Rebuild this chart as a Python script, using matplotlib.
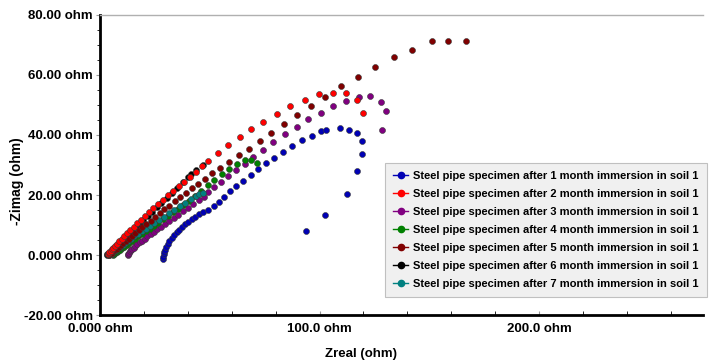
import matplotlib
matplotlib.use("Agg")
import matplotlib.pyplot as plt
from matplotlib import font_manager
from matplotlib.lines import Line2D
from matplotlib.ticker import MultipleLocator

# Nyquist-Daten (Zreal, -Zimag in Ohm)
labels = [f"Steel pipe specimen after {m} month immersion in soil 1" for m in range(1, 8)]
colors = ["#0000b4", "#ff0000", "#800080", "#008000", "#800000", "#000000", "#008080"]

zre_1 = [28.9, 28.9, 29.0, 29.3, 29.6, 30.1, 30.8, 31.6, 32.7, 33.8, 34.9, 36.0, 37.2, 38.7, 40.2,
         41.7, 43.3, 45.1, 47.1, 49.2, 51.9, 54.1, 56.4, 59.1, 62.0, 65.3, 68.6, 72.0, 75.5, 79.3,
         83.2, 87.3, 91.8, 96.4, 100.5, 102.9, 109.3, 113.4, 117.1, 119.5, 119.5, 117.1, 112.4,
         102.4, 94.0]
zim_1 = [-1.4, -0.6, 0.2, 1.0, 1.7, 2.6, 3.6, 4.6, 5.6, 6.6, 7.6, 8.5, 9.4, 10.3, 11.1,
         12.0, 12.8, 13.6, 14.4, 15.1, 16.3, 17.8, 19.4, 21.3, 23.0, 24.8, 26.7, 28.6, 30.6, 32.3,
         34.2, 36.3, 38.3, 39.8, 41.3, 41.8, 42.2, 41.7, 40.7, 38.0, 33.7, 28.0, 20.3,
         13.2, 8.0]

zre_2 = [3.6, 3.9, 4.3, 4.8, 5.4, 6.1, 6.9, 7.8, 8.8, 9.9, 11.1, 12.4, 13.8, 15.3, 16.9, 18.6,
         20.4, 22.3, 24.3, 26.4, 28.6, 30.9, 33.3, 35.8, 38.4, 41.1, 43.9, 46.6, 49.2, 53.8, 58.5,
         63.6, 68.9, 74.4, 80.5, 86.6, 93.4, 99.8, 106.2, 111.9, 117.1, 119.8]
zim_2 = [0.3, 0.6, 1.0, 1.4, 1.9, 2.5, 3.1, 3.8, 4.6, 5.4, 6.3, 7.3, 8.3, 9.4, 10.6, 11.8,
         13.0, 14.3, 15.6, 17.0, 18.4, 19.9, 21.4, 22.9, 24.5, 26.1, 27.7, 29.7, 31.3, 33.9, 36.6,
         39.2, 41.9, 44.3, 47.1, 49.6, 51.8, 53.6, 54.0, 53.9, 51.8, 47.4]

zre_3 = [12.6, 12.8, 13.1, 13.5, 14.0, 14.6, 15.3, 16.1, 17.0, 18.0, 19.1, 20.3, 21.6, 23.0,
         24.5, 26.1, 27.8, 29.6, 31.5, 33.5, 35.6, 37.8, 40.1, 42.5, 44.9, 47.2, 49.3, 52.1, 55.3,
         58.5, 62.0, 66.1, 69.8, 74.1, 79.0, 84.3, 89.6, 94.6, 100.5, 106.3, 112.1, 118.0, 123.1,
         127.9, 130.1, 128.6]
zim_3 = [0.0, 0.4, 0.8, 1.2, 1.6, 2.0, 2.5, 3.0, 3.6, 4.2, 4.8, 5.5, 6.2, 7.0,
         7.8, 8.6, 9.5, 10.4, 11.4, 12.4, 13.5, 14.6, 15.8, 17.0, 18.2, 19.4, 21.1, 22.6, 24.4,
         26.3, 28.3, 30.2, 32.6, 35.0, 37.6, 40.3, 42.8, 45.2, 47.3, 49.6, 51.3, 52.6, 52.9,
         51.1, 47.9, 41.6]

zre_4 = [5.8, 6.1, 6.5, 7.0, 7.6, 8.3, 9.1, 10.0, 11.0, 12.1, 13.3, 14.6, 16.0, 17.5, 19.1,
         20.8, 22.6, 24.5, 26.5, 28.6, 30.8, 33.1, 35.5, 38.0, 40.6, 43.3, 46.1, 49.0, 52.1, 55.4,
         58.8, 62.3, 65.9, 68.9, 71.4]
zim_4 = [0.0, 0.2, 0.4, 0.7, 1.0, 1.4, 1.8, 2.3, 2.8, 3.4, 4.0, 4.7, 5.4, 6.2, 7.0,
         7.9, 8.8, 9.8, 10.8, 11.9, 13.0, 14.2, 15.4, 16.7, 18.1, 19.6, 21.3, 23.2, 25.1, 27.0,
         28.7, 30.2, 31.6, 31.8, 30.8]

zre_5 = [4.3, 4.6, 5.0, 5.5, 6.1, 6.8, 7.6, 8.5, 9.5, 10.6, 11.8, 13.1, 14.5, 16.0, 17.6, 19.3,
         21.1, 23.0, 25.0, 27.1, 29.3, 31.6, 34.0, 36.5, 39.1, 41.9, 44.8, 47.7, 51.2, 54.8, 58.9,
         63.5, 68.0, 73.0, 78.0, 83.8, 89.9, 96.1, 102.6, 109.8, 117.4, 125.4, 133.8, 142.1,
         151.1, 158.4, 166.9]
zim_5 = [0.0, 0.2, 0.5, 0.8, 1.2, 1.6, 2.1, 2.7, 3.3, 4.0, 4.7, 5.5, 6.4, 7.3, 8.3, 9.3,
         10.4, 11.5, 12.7, 13.9, 15.2, 16.5, 17.9, 19.3, 20.8, 22.3, 23.8, 25.4, 27.2, 29.1, 31.1,
         33.4, 35.4, 38.0, 40.7, 43.7, 46.7, 49.6, 52.8, 56.2, 59.3, 62.8, 66.0, 68.4,
         71.3, 71.3, 71.3]

zre_6 = [3.0, 3.3, 3.7, 4.2, 4.8, 5.5, 6.3, 7.2, 8.2, 9.3, 10.5, 11.8, 13.2, 14.7, 16.3, 18.0,
         19.8, 21.7, 23.7, 25.8, 28.0, 30.3, 32.7, 35.2, 37.8, 40.2, 41.6, 43.7, 46.7]
zim_6 = [0.0, 0.2, 0.5, 0.8, 1.2, 1.7, 2.3, 2.9, 3.6, 4.4, 5.2, 6.1, 7.1, 8.1, 9.2, 10.4,
         11.7, 13.0, 14.4, 15.9, 17.4, 19.0, 20.7, 22.4, 24.2, 25.9, 27.0, 28.3, 30.0]

zre_7 = [4.0, 4.3, 4.7, 5.2, 5.8, 6.5, 7.3, 8.2, 9.2, 10.3, 11.5, 12.8, 14.2, 15.7, 17.3, 19.0,
         20.8, 22.7, 24.7, 26.8, 29.0, 31.3, 33.7, 36.2, 38.8, 41.3, 43.5, 45.3, 46.9]
zim_7 = [0.0, 0.2, 0.4, 0.7, 1.0, 1.4, 1.8, 2.3, 2.8, 3.4, 4.0, 4.7, 5.4, 6.2, 7.0, 7.9,
         8.8, 9.7, 10.7, 11.7, 12.8, 13.9, 15.0, 16.2, 17.4, 18.6, 19.6, 20.3, 20.7]

series = [(zre_1, zim_1), (zre_2, zim_2), (zre_3, zim_3), (zre_4, zim_4),
          (zre_5, zim_5), (zre_6, zim_6), (zre_7, zim_7)]
# Zeichenreihenfolge: schwarz liegt im Original unter rot
draw_order = [5, 0, 2, 3, 6, 4, 1]

y_ticks = [-20, 0, 20, 40, 60, 80]
y_tick_labels = ["-20.00 ohm", "0.000 ohm", "20.00 ohm", "40.00 ohm", "60.00 ohm", "80.00 ohm"]
x_ticks = [0, 100, 200]
x_tick_labels = ["0.000 ohm", "100.0 ohm", "200.0 ohm"]


def pick_font():
    """Schmale Arial-artige Schrift, falls vorhanden."""
    for name in ["Liberation Sans Narrow", "Liberation Sans"]:
        try:
            font_manager.findfont(name, fallback_to_default=False)
            return name
        except Exception:
            pass
    return "DejaVu Sans"


def main():
    font = pick_font()
    narrow = "Narrow" in font
    plt.rcParams["font.family"] = font
    plt.rcParams["font.weight"] = "bold"

    fig = plt.figure(figsize=(7.16, 3.63), dpi=100)
    ax = fig.add_axes([0.1397, 0.1322, 0.8423, 0.8265])

    for i in draw_order:
        zre, zim = series[i]
        col = colors[i]
        ax.plot(zre, zim, linestyle="none", marker="o", ms=4.3, mfc=col,
                mec="#3a3a3a", mew=0.4)

    ax.set_xlim(0, 274.7)
    ax.set_ylim(-20, 80)
    ax.set_xticks(x_ticks, x_tick_labels)
    ax.set_yticks(y_ticks, y_tick_labels)
    ax.xaxis.set_minor_locator(MultipleLocator(20))
    ax.yaxis.set_minor_locator(MultipleLocator(5))

    tick_size = 11.3 if narrow else 9.5
    ax.tick_params(axis="both", labelsize=tick_size, colors="#999999", labelcolor="black")
    ax.tick_params(axis="y", which="major", length=3, width=0.8, direction="out", pad=2)
    ax.tick_params(axis="y", which="minor", length=2.5, width=0.6, direction="out")
    ax.tick_params(axis="x", which="major", length=3, width=0.8, direction="in", pad=6)
    ax.tick_params(axis="x", which="minor", length=3, width=0.6, direction="in")

    ax.spines["left"].set_linewidth(2)
    ax.spines["bottom"].set_linewidth(2)
    ax.spines["top"].set_color("#b0b0b0")
    ax.spines["top"].set_linewidth(1)
    ax.spines["right"].set_visible(False)

    fig.text(0.504, 0.025, "Zreal (ohm)", ha="center", va="center",
             fontsize=tick_size, fontweight="bold")
    fig.text(0.024, 0.50, "-Zimag (ohm)", ha="center", va="center", rotation=90,
             fontsize=tick_size + 0.5, fontweight="bold")

    handles = [Line2D([], [], color=c, lw=1, marker="o", ms=4.5, mfc=c, mec=c) for c in colors]
    leg = ax.legend(handles, labels, loc="upper right", bbox_to_anchor=(0.987, 0.551),
                    bbox_transform=fig.transFigure, borderaxespad=0,
                    fontsize=9.2 if narrow else 8.05, frameon=True, fancybox=False,
                    handlelength=1.3, handletextpad=0.5, labelspacing=0.72,
                    borderpad=0.7)
    frame = leg.get_frame()
    frame.set_facecolor("#f0f0f0")
    frame.set_edgecolor("#c0c0c0")
    frame.set_linewidth(0.8)
    frame.set_alpha(1)

    fig.savefig("out.png", dpi=100)


if __name__ == "__main__":
    main()
